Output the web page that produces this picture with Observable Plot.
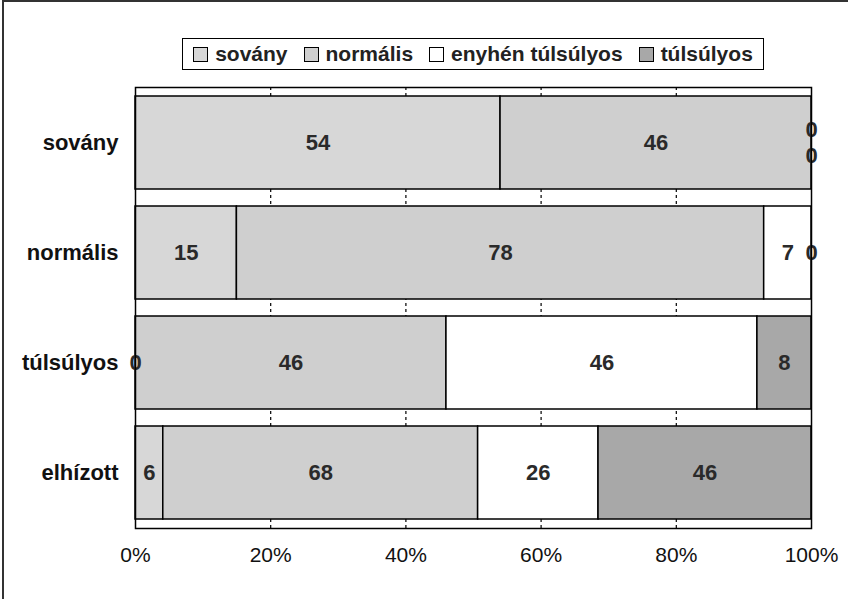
<!DOCTYPE html>
<html>
<head>
<meta charset="utf-8">
<script src="https://cdn.jsdelivr.net/npm/d3@7"></script>
<script src="https://cdn.jsdelivr.net/npm/@observablehq/plot@0.6"></script>
<style>
  html, body { margin: 0; padding: 0; background: #fff; }
  #page { position: relative; width: 848px; height: 599px; overflow: hidden; font-family: "Liberation Sans", Arial, Helvetica, sans-serif; }
  #scanframe { position: absolute; left: 2px; top: 0; width: 846px; height: 599px; border-top: 2px solid #333; border-left: 2px solid #333; box-sizing: border-box; pointer-events: none; }
  #legendwrap { height: 72px; box-sizing: border-box; padding-top: 38px; padding-left: 135px; width: 811px; display: flex; justify-content: center; }
  #legend { display: flex; align-items: center; border: 1.5px solid #000; height: 32px; box-sizing: border-box; padding: 0 10px; font-weight: bold; font-size: 21px; color: #222; gap: 16px; }
  .item { display: flex; align-items: center; gap: 7px; white-space: nowrap; }
  .sw { width: 15px; height: 15px; border: 1.5px solid #000; box-sizing: border-box; }
</style>
</head>
<body>
<div id="page">
  <div id="legendwrap"><div id="legend"></div></div>
  <div id="chart"></div>
  <div id="scanframe"></div>
</div>
<script>
// categories (rows) and series (stack segments)
const categories = ["sovány", "normális", "túlsúlyos", "elhízott"];
const series = ["sovány", "normális", "enyhén túlsúlyos", "túlsúlyos"];
// values per series, one per category (in category order)
const soványValues = [54, 15, 0, 6];
const normálisValues = [46, 78, 46, 68];
const enyhénTúlsúlyosValues = [0, 7, 46, 26];
const túlsúlyosValues = [0, 0, 8, 46];
const xTickValues = [0, 20, 40, 60, 80, 100];
const seriesColors = ["#d7d7d7", "#cfcfcf", "#ffffff", "#a8a8a8"];

const seriesValues = [soványValues, normálisValues, enyhénTúlsúlyosValues, túlsúlyosValues];
const data = [];
categories.forEach((cat, ci) => {
  series.forEach((s, si) => {
    data.push({cat, series: s, value: seriesValues[si][ci]});
  });
});

// legend
const legend = document.getElementById("legend");
series.forEach((s, i) => {
  const it = document.createElement("div");
  it.className = "item";
  const sw = document.createElement("div");
  sw.className = "sw";
  sw.style.background = seriesColors[i];
  const t = document.createElement("span");
  t.textContent = s;
  it.appendChild(sw); it.appendChild(t);
  legend.appendChild(it);
});

// overlapping zero labels in the "sovány" row are offset up/down
const isUp = d => d.cat === "sovány" && d.series === "enyhén túlsúlyos";
const isDown = d => d.cat === "sovány" && d.series === "túlsúlyos";
const stackOpts = {offset: "normalize", x: "value", y: "cat"};
const textStyle = {fontSize: 22, fontWeight: "bold", fill: "#2a2a2a", fontFamily: "Liberation Sans, Arial, sans-serif"};

const chart = Plot.plot({
  width: 848,
  height: 527,
  marginTop: 15,
  marginBottom: 71,
  marginLeft: 135,
  marginRight: 37,
  style: {fontFamily: "Liberation Sans, Arial, sans-serif", background: "transparent"},
  x: {domain: [0, 1], label: null},
  y: {domain: categories, paddingInner: 0.155, paddingOuter: 0.0775, label: null},
  color: {domain: series, range: seriesColors},
  marks: [
    Plot.gridX(xTickValues.slice(1, -1).map(v => v / 100), {stroke: "#000", strokeOpacity: 1, strokeWidth: 1.2, strokeDasharray: "3,3"}),
    Plot.barX(data, Plot.stackX({...stackOpts, fill: "series", stroke: "#000", strokeWidth: 1.5})),
    Plot.text(data, Plot.stackX({...stackOpts, text: d => (isUp(d) || isDown(d)) ? null : String(d.value), ...textStyle})),
    Plot.text(data, Plot.stackX({...stackOpts, text: d => isUp(d) ? String(d.value) : null, dy: -13, ...textStyle})),
    Plot.text(data, Plot.stackX({...stackOpts, text: d => isDown(d) ? String(d.value) : null, dy: 13, ...textStyle})),
    Plot.frame({stroke: "#000", strokeWidth: 1.5}),
    Plot.axisX(xTickValues.map(v => v / 100), {tickSize: 0, tickPadding: 19, tickFormat: d => Math.round(d * 100) + "%", fontSize: 21, fill: "#111", label: null}),
    Plot.axisY({tickSize: 0, tickPadding: 17, fontSize: 22, fontWeight: "bold", fill: "#111", label: null})
  ]
});
document.getElementById("chart").appendChild(chart);
</script>
</body>
</html>
